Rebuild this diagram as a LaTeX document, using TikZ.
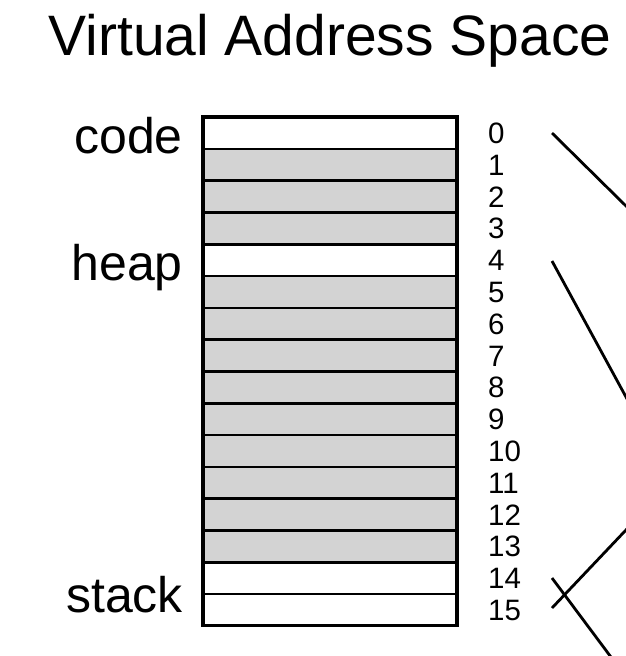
\documentclass[tikz,border=0pt]{standalone}
\usepackage{fontspec}
\setmainfont{Liberation Sans}
\begin{document}
\begin{tikzpicture}[x=1pt,y=-1pt,
  cell/.style={draw=black, line width=2.6pt, minimum width=254pt, minimum height=31.8pt, inner sep=0pt, outer sep=0pt, anchor=north west},
  used/.style={cell, fill={rgb,255:red,211;green,211;blue,211}},
  free/.style={cell, fill=white},
  seglabel/.style={font=\fontsize{50}{52}\selectfont, anchor=base east, inner sep=0pt},
  numlabel/.style={font=\fontsize{29.5}{31}\selectfont, anchor=base west, inner sep=0pt},
  mapline/.style={line width=2.8pt}]
\useasboundingbox (0,0) rectangle (626,656);
\clip (0,0) rectangle (626,656);
\node[font=\fontsize{57}{60}\selectfont, anchor=base, inner sep=0pt] (title) at (330,55) {Virtual Address Space};
\foreach \i in {0,...,15} {
  \pgfmathsetmacro{\yy}{117+31.8*\i}
  \ifnum\i=0 \def\st{free}\else\ifnum\i=4 \def\st{free}\else\ifnum\i>13 \def\st{free}\else\def\st{used}\fi\fi\fi
  \node[\st] (r\i) at (203,\yy) {};
  \node[numlabel] (n\i) at (488,\yy+15.9+10.5) {\i};
}
\draw[line width=3.2pt] (r0.north west) rectangle (r15.south east);
\node[seglabel] (code) at (183,153) {code};
\node[seglabel] (heap) at (183,280) {heap};
\node[seglabel] (stack) at (183,612) {stack};
\coordinate (s0) at (552,133);
\coordinate (e0) at (700,279);
\coordinate (s4) at (552,261);
\coordinate (e4) at (660,459.5);
\coordinate (s15) at (552,608);
\coordinate (e15) at (680,473);
\coordinate (s14) at (552,578);
\coordinate (e14) at (640,696);
\draw[mapline] (s0) -- (e0);
\draw[mapline] (s4) -- (e4);
\draw[mapline] (s15) -- (e15);
\draw[mapline] (s14) -- (e14);
\end{tikzpicture}
\end{document}
